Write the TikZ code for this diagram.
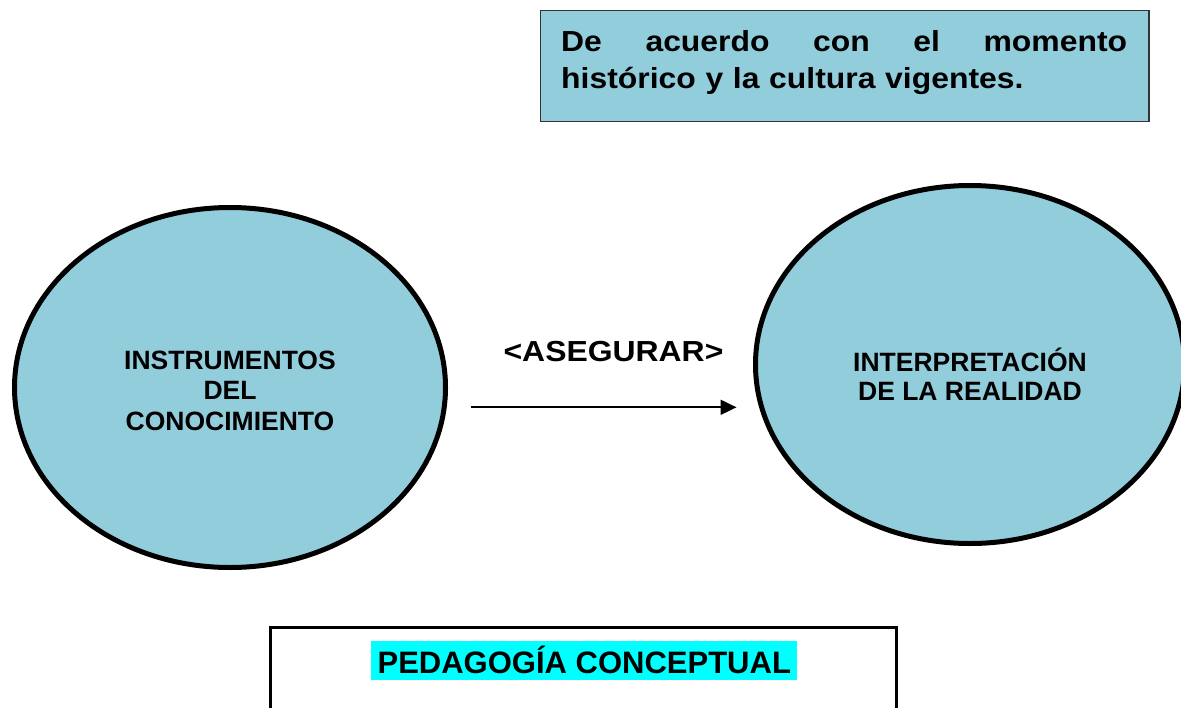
\documentclass[tikz,border=0pt]{standalone}
\usepackage{fontspec}
\setmainfont{Liberation Sans}
\newfontfamily\stretchfont[FakeStretch=1.1]{Liberation Sans}
\usetikzlibrary{arrows.meta,shapes.geometric}
\definecolor{lblue}{HTML}{92CDDC}
\definecolor{boxline}{HTML}{333333}
\definecolor{hilite}{HTML}{00FFFF}
\tikzset{
  bubble/.style={ellipse, draw=black, fill=lblue, line width=5pt, inner sep=0pt, outer sep=0pt},
  bubbletext/.style={anchor=base, align=center, inner sep=0pt, font=\bfseries\fontsize{26.5pt}{30.5pt}\selectfont},
  arr/.style={line width=2pt, -{Triangle[length=16pt,width=15pt]}},
}
\begin{document}
\begin{tikzpicture}[x=1pt,y=-1pt]
\useasboundingbox (0,0) rectangle (1181,707);
% top note box
\node[draw=boxline, line width=1.3pt, fill=lblue, minimum width=608.3pt, minimum height=111pt, inner sep=0pt, anchor=north west] (note) at (540,10) {};
\node[anchor=base west, inner sep=0pt, text width=566pt, align=left,
      font=\stretchfont\bfseries\fontsize{29pt}{37pt}\selectfont] (notetext) at (561,51)
  {\hbox to 566pt{De\hfill acuerdo\hfill con\hfill el\hfill momento}\\hist\'orico y la cultura vigentes.};
% ellipses
\node[bubble, minimum width=431pt, minimum height=360pt] (left) at (230,387.5) {};
\node[bubble, minimum width=429pt, minimum height=358pt] (right) at (970,364.5) {};
\node[bubbletext] (lefttext) at (230,430) {INSTRUMENTOS\\DEL\\CONOCIMIENTO};
\node[bubbletext, font=\bfseries\fontsize{26.5pt}{29pt}\selectfont] (righttext) at (970,400) {INTERPRETACI\'ON\\DE LA REALIDAD};
% arrow
\coordinate (arrowline) at (600,407.3);
\node[anchor=base, inner sep=0pt, font=\stretchfont\bfseries\fontsize{29pt}{34pt}\selectfont] (assure) at (613.5,361.7) {<ASEGURAR>};
\draw[arr, shorten <=25pt, shorten >=19pt] (left.east |- arrowline) -- (right.west |- arrowline);
% bottom box
\draw[line width=3pt] (270.3,720) -- (270.3,627) -- (896,627) -- (896,720);
\node[anchor=base, fill=hilite, inner xsep=6.3pt, inner ysep=0pt, text height=32.3pt, text depth=6.7pt,
      font=\bfseries\fontsize{31pt}{36pt}\selectfont] (title) at (584.3,673.3) {PEDAGOG\'IA CONCEPTUAL};
\end{tikzpicture}
\end{document}
